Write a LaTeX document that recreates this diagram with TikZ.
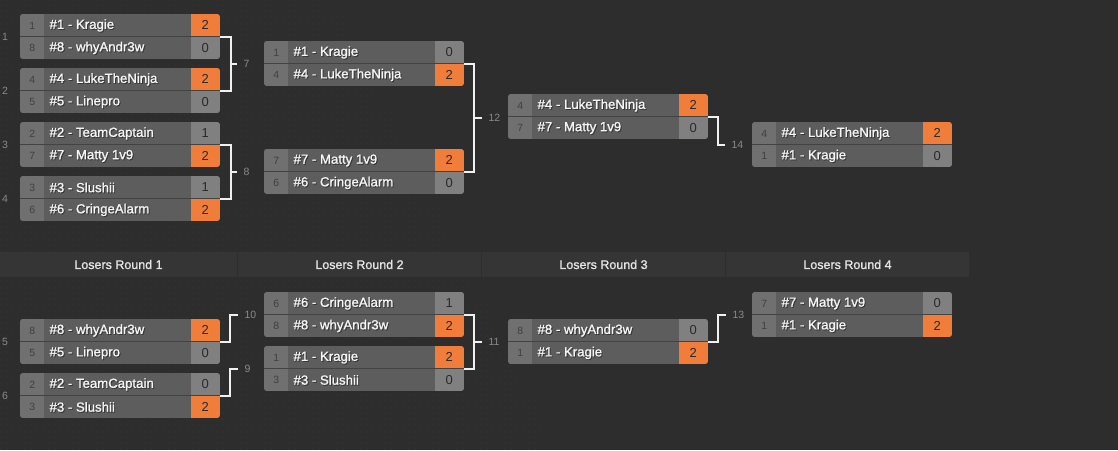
\documentclass[tikz,border=0pt]{standalone}
\usepackage{fontspec}
\setmainfont{Liberation Sans}
\newfontfamily\medfont{Liberation Sans}[FakeBold=1.2]
\usetikzlibrary{calc,patterns}

\definecolor{bgc}{HTML}{2D2D2D}
\definecolor{dotc}{HTML}{3A3A3A}
\definecolor{hdrc}{HTML}{353535}
\definecolor{seedc}{HTML}{707070}
\definecolor{namec}{HTML}{5D5D5D}
\definecolor{scorec}{HTML}{808080}
\definecolor{winc}{HTML}{F07D3A}
\definecolor{seedtxt}{HTML}{404040}
\definecolor{scoretxt}{HTML}{2A2A2A}
\definecolor{rnumc}{HTML}{8A8A8A}
\definecolor{rowc}{HTML}{434343}
\definecolor{shadc}{HTML}{383838}

\pgfdeclarepatternformonly{bgdots}{\pgfpointorigin}{\pgfpoint{5.5pt}{5.5pt}}{\pgfpoint{5.5pt}{5.5pt}}{%
  \pgfpathcircle{\pgfpoint{1pt}{1pt}}{0.6pt}\pgfusepath{fill}}

% one match: name, left x, top y, upper player, lower player (seed/name/score/colour)
\newcommand\match[5]{%
  \begin{scope}
    \clip[rounded corners=3pt] (#2,#3) rectangle ++(200,45);
    \node[mbox, anchor=north west] (#1) at (#2,#3) {};
    \foreach \sd/\nm/\sc/\st [count=\r from 0] in {#4,#5} {
      \node[seedcell, anchor=north west] (#1-s\r) at (#2,#3+22.5*\r) {\sd};
      \node[nametext, text=shadc, anchor=west] at ($(#1-s\r.east)+(1,1)$) {\nm};
      \node[nametext, anchor=west] (#1-n\r) at (#1-s\r.east) {\nm};
      \node[scorecell=\st, anchor=north east] (#1-c\r) at (#2+200,#3+22.5*\r) {\sc};
    }
    \draw[rowline] (#1.west) -- (#1.east);
  \end{scope}
}

\begin{document}
\begin{tikzpicture}[x=1pt, y=-1pt,
    mbox/.style={minimum width=200pt, minimum height=45pt, inner sep=0pt, fill=namec},
    seedcell/.style={minimum width=24pt, minimum height=22.5pt, inner sep=0pt, fill=seedc,
                     text=seedtxt, font=\fontsize{10.5}{11}\selectfont},
    nametext/.style={inner xsep=5pt, inner ysep=0pt, text=white!96!black, font=\medfont\fontsize{13.2}{14}\selectfont},
    scorecell/.style={minimum width=29pt, minimum height=22.5pt, inner sep=0pt, fill=#1,
                      text=scoretxt, font=\fontsize{13}{14}\selectfont},
    rowline/.style={rowc, line width=1pt},
    rnum/.style={text=rnumc, inner xsep=6pt, inner ysep=0pt, font=\fontsize{10.5}{11}\selectfont},
    hdr/.style={fill=hdrc, minimum height=25pt, inner sep=0pt, text=white!90!black,
                font=\medfont\fontsize{12.5}{13}\selectfont},
    conn/.style={draw=white!94!black, line width=2pt},
]
\useasboundingbox (0,0) rectangle (1118,450);

% background and dotted texture
\fill[bgc] (0,0) rectangle (1118,450);
\fill[pattern=bgdots, pattern color=dotc] (0,0) -- (333,0) -- (558,450) -- (0,450) -- cycle;

% ---- winners bracket ----
\match{m1}{20}{14}{1/\#1 - Kragie/2/winc}{8/\#8 - whyAndr3w/0/scorec}
\match{m2}{20}{68}{4/\#4 - LukeTheNinja/2/winc}{5/\#5 - Linepro/0/scorec}
\match{m3}{20}{122}{2/\#2 - TeamCaptain/1/scorec}{7/\#7 - Matty 1v9/2/winc}
\match{m4}{20}{176}{3/\#3 - Slushii/1/scorec}{6/\#6 - CringeAlarm/2/winc}

\match{m7}{264}{41}{1/\#1 - Kragie/0/scorec}{4/\#4 - LukeTheNinja/2/winc}
\match{m8}{264}{149}{7/\#7 - Matty 1v9/2/winc}{6/\#6 - CringeAlarm/0/scorec}

\match{m12}{508}{94}{4/\#4 - LukeTheNinja/2/winc}{7/\#7 - Matty 1v9/0/scorec}
\match{m14}{752}{122}{4/\#4 - LukeTheNinja/2/winc}{1/\#1 - Kragie/0/scorec}

% ---- round headers ----
\node[hdr, minimum width=237pt] (h1) at (118.5,264.5) {Losers Round 1};
\node[hdr, minimum width=243pt] (h2) at (359.5,264.5) {Losers Round 2};
\node[hdr, minimum width=243pt] (h3) at (603.5,264.5) {Losers Round 3};
\node[hdr, minimum width=243pt] (h4) at (847.5,264.5) {Losers Round 4};

% ---- losers bracket ----
\match{m5}{20}{319}{8/\#8 - whyAndr3w/2/winc}{5/\#5 - Linepro/0/scorec}
\match{m6}{20}{373}{2/\#2 - TeamCaptain/0/scorec}{3/\#3 - Slushii/2/winc}

\match{m10}{264}{292}{6/\#6 - CringeAlarm/1/scorec}{8/\#8 - whyAndr3w/2/winc}
\match{m9}{264}{346}{1/\#1 - Kragie/2/winc}{3/\#3 - Slushii/0/scorec}

\match{m11}{508}{319}{8/\#8 - whyAndr3w/0/scorec}{1/\#1 - Kragie/2/winc}
\match{m13}{752}{292}{7/\#7 - Matty 1v9/0/scorec}{1/\#1 - Kragie/2/winc}

% match numbers of the first round
\node[rnum] (r1) at ($(m1.west)+(-15,0)$) {1};
\node[rnum] (r2) at ($(m2.west)+(-15,0)$) {2};
\node[rnum] (r3) at ($(m3.west)+(-15,0)$) {3};
\node[rnum] (r4) at ($(m4.west)+(-15,0)$) {4};
\node[rnum] (r5) at ($(m5.west)+(-15,0)$) {5};
\node[rnum] (r6) at ($(m6.west)+(-15,0)$) {6};

% brackets joining two matches
\node[rnum, anchor=west] (r7) at ($(m1.east)!.5!(m2.east)+(17,0)$) {7};
\draw[conn] (m1.east) -- ++(11,0) coordinate (b7) |- (m2.east);
\draw[conn] (r7.west) -- (r7.west -| b7);

\node[rnum, anchor=west] (r8) at ($(m3.east)!.5!(m4.east)+(17,0)$) {8};
\draw[conn] (m3.east) -- ++(11,0) coordinate (b8) |- (m4.east);
\draw[conn] (r8.west) -- (r8.west -| b8);

\node[rnum, anchor=west] (r12) at ($(m7.east)!.5!(m8.east)+(18,0)$) {12};
\draw[conn] (m7.east) -- ++(10,0) coordinate (b12) |- (m8.east);
\draw[conn] (r12.west) -- (r12.west -| b12);

\node[rnum, anchor=west] (r11) at ($(m10.east)!.5!(m9.east)+(18,0)$) {11};
\draw[conn] (m10.east) -- ++(10,0) coordinate (b11) |- (m9.east);
\draw[conn] (r11.west) -- (r11.west -| b11);

% single feeds
\coordinate (t14) at ($(m12.east)+(17,0)$);
\node[rnum, anchor=west] (r14) at (t14 |- m14.west) {14};
\draw[conn] (m12.east) -- ++(10,0) |- (r14.west);

\coordinate (t13) at ($(m11.east)+(18,0)$);
\node[rnum, anchor=west] (r13) at (t13 |- m13.west) {13};
\draw[conn] (m11.east) -- ++(10,0) |- (r13.west);

\coordinate (t10) at ($(m5.east)+(18,0)$);
\node[rnum, anchor=west] (r10) at (t10 |- m10.west) {10};
\draw[conn] (m5.east) -- ++(10,0) |- (r10.west);

\coordinate (t9) at ($(m6.east)+(18,0)$);
\node[rnum, anchor=west] (r9) at (t9 |- m9.west) {9};
\draw[conn] (m6.east) -- ++(10,0) |- (r9.west);

\end{tikzpicture}
\end{document}
